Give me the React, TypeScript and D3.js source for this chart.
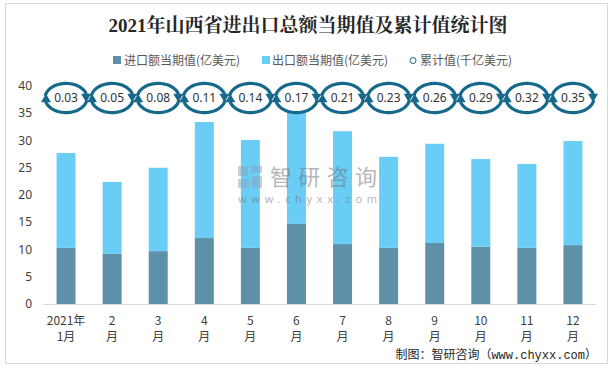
import React from 'react';
import * as d3 from 'd3';

const months = ['1', '2', '3', '4', '5', '6', '7', '8', '9', '10', '11', '12'];
const xLabelTop = ['2021年', '2', '3', '4', '5', '6', '7', '8', '9', '10', '11', '12'];
const xLabelBottom = ['1月', '月', '月', '月', '月', '月', '月', '月', '月', '月', '月', '月'];
const importValues = [10.3, 9.2, 9.7, 12.1, 10.3, 14.7, 11.0, 10.3, 11.2, 10.5, 10.3, 10.8];
const exportValues = [17.4, 13.2, 15.3, 21.3, 19.8, 20.7, 20.7, 16.7, 18.2, 16.1, 15.4, 19.1];
const cumulativeValues = [0.03, 0.05, 0.08, 0.11, 0.14, 0.17, 0.21, 0.23, 0.26, 0.29, 0.32, 0.35];
const yTicks = [0, 5, 10, 15, 20, 25, 30, 35, 40];
const markerLevel = 37.8;

const title = '2021年山西省进出口总额当期值及累计值统计图';
const legendLabels = ['进口额当期值(亿美元)', '出口额当期值(亿美元)', '累计值(千亿美元)'];
const source = '制图：智研咨询（www.chyxx.com）';

const W = 616;
const H = 370;
const IMPORT_COLOR = '#5E90A8';
const EXPORT_COLOR = '#6ACDF5';
const RING_COLOR = '#17698B';
const TEXT = '#404040';
const CJK = '"Noto Sans CJK SC", "Noto Sans", sans-serif';

function ringPath(cx: number, cy: number, rx: number, ry: number, a0: number, a1: number) {
  const pts: [number, number][] = [];
  const n = 30;
  for (let i = 0; i <= n; i++) {
    const a = ((a0 + ((a1 - a0) * i) / n) * Math.PI) / 180;
    pts.push([cx + rx * Math.cos(a), cy + ry * Math.sin(a)]);
  }
  return d3.line()(pts) as string;
}

function arrowHead(cx: number, cy: number, rx: number, ry: number, aEnd: number, aTip: number) {
  const r = (d: number) => (d * Math.PI) / 180;
  const P = [cx + rx * Math.cos(r(aEnd)), cy + ry * Math.sin(r(aEnd))];
  const T = [cx + rx * Math.cos(r(aTip)), cy + ry * Math.sin(r(aTip))];
  const dx = T[0] - P[0];
  const dy = T[1] - P[1];
  const len = Math.hypot(dx, dy) || 1;
  const nx = -dy / len;
  const ny = dx / len;
  const w = 5;
  return `M${P[0] + nx * w},${P[1] + ny * w}L${P[0] - nx * w},${P[1] - ny * w}L${T[0]},${T[1]}Z`;
}

export default function App() {
  const x = d3
    .scaleBand<string>()
    .domain(months)
    .range([43, 596])
    .paddingInner(0.588)
    .paddingOuter(0.294);
  const y = d3.scaleLinear().domain([0, 40]).range([304, 86]);
  const bw = x.bandwidth();

  const rx = 21;
  const ry = 14.6;

  return (
    <svg
      width={W}
      height={H}
      style={{ position: 'absolute', left: 0, top: 0, background: '#fff' }}
    >
      <rect x={0} y={0} width={W} height={H} fill="#fff" />
      <rect x={5.5} y={3.5} width={602} height={360} fill="none" stroke="#d9d9d9" strokeWidth={1} />

      <text
        x={308}
        y={32}
        textAnchor="middle"
        fontSize={19}
        fontWeight="bold"
        fill="#262626"
        fontFamily='"Liberation Serif", "Noto Serif CJK SC", "Noto Sans CJK SC", serif'
      >
        {title}
      </text>

      {/* legend */}
      <g fontFamily={CJK} fontSize={12} fill="#595959">
        <rect x={113} y={56} width={8} height={8} fill={IMPORT_COLOR} />
        <text x={124} y={65}>{legendLabels[0]}</text>
        <rect x={262} y={56} width={8} height={8} fill={EXPORT_COLOR} />
        <text x={272} y={65}>{legendLabels[1]}</text>
        <circle cx={413} cy={60.5} r={3} fill="none" stroke={RING_COLOR} strokeWidth={1} />
        <text x={420} y={65}>{legendLabels[2]}</text>
      </g>

      {/* y axis labels */}
      <g fontFamily='"Noto Sans", sans-serif' fontSize={12} fill={TEXT}>
        {yTicks.map((t) => (
          <text key={t} x={32} y={y(t)} dy="0.35em" textAnchor="end">
            {t}
          </text>
        ))}
      </g>

      {/* bars */}
      {months.map((m, i) => (
        <g key={m}>
          <rect
            x={x(m)}
            y={y(importValues[i])}
            width={bw}
            height={y(0) - y(importValues[i])}
            fill={IMPORT_COLOR}
          />
          <rect
            x={x(m)}
            y={y(importValues[i] + exportValues[i])}
            width={bw}
            height={y(importValues[i]) - y(importValues[i] + exportValues[i])}
            fill={EXPORT_COLOR}
          />
        </g>
      ))}

      <line x1={43} x2={596} y1={304.5} y2={304.5} stroke="#d9d9d9" strokeWidth={1} />

      {/* x labels */}
      <g fontFamily={CJK} fontSize={12} fill={TEXT} textAnchor="middle">
        {months.map((m, i) => {
          const cx = (x(m) as number) + bw / 2;
          return (
            <g key={m}>
              <text x={cx} y={325}>{xLabelTop[i]}</text>
              <text x={cx} y={341}>{xLabelBottom[i]}</text>
            </g>
          );
        })}
      </g>

      {/* cumulative markers */}
      {months.map((m, i) => {
        const cx = (x(m) as number) + bw / 2;
        const cy = y(markerLevel);
        return (
          <g key={'c' + m}>
            <path d={ringPath(cx, cy, rx, ry, 188, 345)} fill="none" stroke={RING_COLOR} strokeWidth={3.2} />
            <path d={arrowHead(cx, cy, rx, ry, 343, 377)} fill={RING_COLOR} />
            <path d={ringPath(cx, cy, rx, ry, 8, 165)} fill="none" stroke={RING_COLOR} strokeWidth={3.2} />
            <path d={arrowHead(cx, cy, rx, ry, 163, 197)} fill={RING_COLOR} />
            <text
              x={cx}
              y={cy}
              dy="0.36em"
              textAnchor="middle"
              fontFamily='"Noto Sans", sans-serif'
              fontSize={12}
              fill="#333"
            >
              {cumulativeValues[i].toFixed(2)}
            </text>
          </g>
        );
      })}

      {/* watermark */}
      <g opacity={0.5}>
        <rect x={238} y={166} width={10} height={10} fill="#8aa4ba" />
        <rect x={251} y={166} width={11} height={7} fill="#8aa4ba" />
        <rect x={238} y={179} width={11} height={9} fill="#8aa4ba" />
        <rect x={252} y={176} width={10} height={12} fill="#8aa4ba" />
        <text
          x={270}
          y={185}
          fontFamily={CJK}
          fontSize={22}
          fill="#707070"
          textLength={107}
          lengthAdjust="spacing"
        >
          智研咨询
        </text>
        <text
          x={238}
          y={203}
          fontFamily='"Noto Sans", sans-serif'
          fontSize={11}
          fill="#707070"
          textLength={139}
          lengthAdjust="spacing"
        >
          www.chyxx.com
        </text>
      </g>

      <text
        x={597}
        y={359}
        textAnchor="end"
        fontSize={12}
        fill="#262626"
        fontFamily='"Liberation Mono", "Noto Sans CJK SC", monospace'
      >
        {source}
      </text>
    </svg>
  );
}
